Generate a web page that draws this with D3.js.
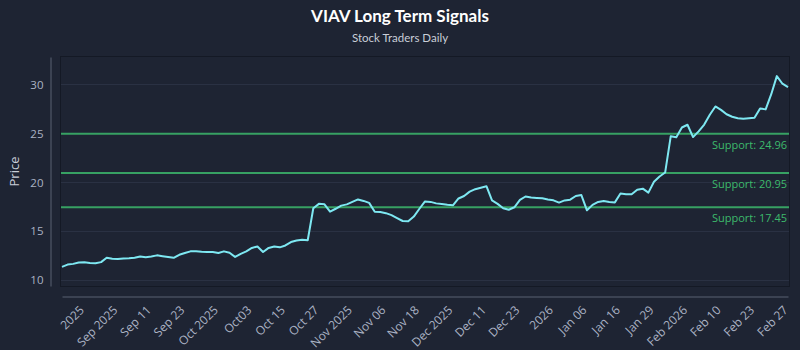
<!DOCTYPE html>
<html>
<head>
<meta charset="utf-8">
<script src="https://cdn.jsdelivr.net/npm/d3@7"></script>
<style>
  html, body { margin: 0; padding: 0; background: #1e2433; }
  svg { display: block; }
</style>
</head>
<body>
<svg id="chart" width="800" height="350"></svg>
<script>
// ---- data ----
const prices = [
  11.36, 11.60, 11.67, 11.82, 11.83, 11.76, 11.73, 11.85, 12.30, 12.20,
  12.17, 12.23, 12.25, 12.30, 12.43, 12.35, 12.42, 12.54, 12.46, 12.38,
  12.29, 12.60, 12.78, 12.95, 12.95, 12.90, 12.89, 12.89, 12.78, 12.95,
  12.80, 12.38, 12.70, 12.95, 13.30, 13.45, 12.88, 13.30, 13.45, 13.36,
  13.55, 13.90, 14.05, 14.14, 14.08, 17.35, 17.80, 17.75, 17.00, 17.30,
  17.62, 17.75, 18.00, 18.25, 18.10, 17.90, 17.00, 16.97, 16.85, 16.65,
  16.35, 16.05, 16.02, 16.50, 17.30, 18.05, 18.00, 17.85, 17.78, 17.70,
  17.65, 18.35, 18.60, 19.05, 19.30, 19.45, 19.60, 18.15, 17.80, 17.35,
  17.20, 17.45, 18.20, 18.55, 18.44, 18.40, 18.37, 18.25, 18.16, 17.93,
  18.15, 18.23, 18.60, 18.70, 17.14, 17.70, 18.00, 18.09, 18.00, 17.95,
  18.85, 18.78, 18.78, 19.25, 19.35, 18.95, 20.05, 20.60, 21.00, 24.70,
  24.60, 25.60, 25.88, 24.62, 25.20, 25.90, 26.90, 27.75, 27.40, 26.95,
  26.70, 26.55, 26.50, 26.55, 26.60, 27.55, 27.45, 29.00, 30.85, 30.07,
  29.72
];
const tickLabels = [
  "2025", "Sep 2025", "Sep 11", "Sep 23", "Oct 2025", "Oct03", "Oct 15", "Oct 27",
  "Nov 2025", "Nov 06", "Nov 18", "Dec 2025", "Dec 11", "Dec 23", "2026", "Jan 06",
  "Jan 16", "Jan 29", "Feb 2026", "Feb 10", "Feb 23", "Feb 27"
];
const tickIndex = [4, 10, 16, 22, 28, 34, 40, 46, 52, 58, 64, 70, 76, 82, 88, 94, 100, 106, 112, 118, 124, 130];
const supportLevels = [24.96, 20.95, 17.45];
const yTicks = [10, 15, 20, 25, 30];
const title = "VIAV Long Term Signals";
const subtitle = "Stock Traders Daily";
const yLabel = "Price";

// ---- layout ----
const W = 800, H = 350;
const plot = { left: 61, right: 789, top: 57, bottom: 286 };
const svg = d3.select("#chart");

svg.append("rect").attr("width", W).attr("height", H).attr("fill", "#1e2433");

const x = d3.scaleLinear().domain([0, prices.length - 1]).range([plot.left + 1, plot.right - 1]);
const yMin = d3.min(prices), yMax = d3.max(prices), pad = (yMax - yMin) * 0.1;
const y = d3.scaleLinear().domain([yMin - pad, yMax + pad]).range([plot.bottom, plot.top]);

// plot frame
svg.append("rect")
  .attr("x", plot.left - 0.5).attr("y", plot.top - 0.5)
  .attr("width", plot.right - plot.left + 1).attr("height", plot.bottom - plot.top + 1)
  .attr("fill", "#1e2433").attr("stroke", "#141925").attr("stroke-width", 1);

// grid
svg.append("g").selectAll("line").data(yTicks).join("line")
  .attr("x1", plot.left).attr("x2", plot.right)
  .attr("y1", d => Math.round(y(d)) + 0.5).attr("y2", d => Math.round(y(d)) + 0.5)
  .attr("stroke", "#2a3143").attr("stroke-width", 1);

// support lines
svg.append("g").selectAll("line").data(supportLevels).join("line")
  .attr("x1", plot.left).attr("x2", plot.right)
  .attr("y1", d => y(d)).attr("y2", d => y(d))
  .attr("stroke", "#37a163").attr("stroke-width", 2);

svg.append("g").selectAll("text").data(supportLevels).join("text")
  .attr("x", plot.right - 2).attr("y", d => y(d) + 15)
  .attr("text-anchor", "end")
  .attr("font-family", "Open Sans, sans-serif").attr("font-size", 11)
  .attr("fill", "#3dba6c")
  .text(d => "Support: " + d.toFixed(2));

// price line
const line = d3.line().x((d, i) => x(i)).y(d => y(d));
svg.append("path").datum(prices)
  .attr("d", line).attr("fill", "none")
  .attr("stroke", "#7ee8f2").attr("stroke-width", 2)
  .attr("stroke-linejoin", "round");

// y axis
const yAxis = svg.append("g").attr("transform", `translate(${plot.left - 10.5},0)`)
  .call(d3.axisLeft(y).tickValues(yTicks).tickSize(0).tickPadding(7));
yAxis.select(".domain").attr("stroke", "#596072");
yAxis.selectAll("text").attr("fill", "#aab2c3").attr("font-size", 11.5)
  .attr("font-family", "Open Sans, sans-serif");

// x axis
const xAxis = svg.append("g").attr("transform", `translate(0,${plot.bottom + 10.5})`)
  .call(d3.axisBottom(x).tickValues(tickIndex).tickSize(0)
    .tickFormat((d, i) => tickLabels[i]));
xAxis.select(".domain").attr("stroke", "#596072");
xAxis.selectAll("text")
  .attr("fill", "#aab2c3").attr("font-size", 12)
  .attr("font-family", "Open Sans, sans-serif")
  .attr("text-anchor", "end")
  .attr("dx", "-0.85em").attr("dy", "0.6em")
  .attr("transform", "rotate(-45)");

// titles
svg.append("text").attr("x", W / 2).attr("y", 22).attr("text-anchor", "middle")
  .attr("font-family", "Lato, sans-serif").attr("font-weight", "bold").attr("font-size", 17)
  .attr("fill", "#ffffff").text(title);
svg.append("text").attr("x", W / 2).attr("y", 42).attr("text-anchor", "middle")
  .attr("font-family", "Lato, sans-serif").attr("font-size", 11.5)
  .attr("fill", "#c9ced8").text(subtitle);
svg.append("text")
  .attr("transform", `translate(19,${(plot.top + plot.bottom) / 2}) rotate(-90)`)
  .attr("text-anchor", "middle")
  .attr("font-family", "Open Sans, sans-serif").attr("font-size", 13)
  .attr("fill", "#c9ced8").text(yLabel);
</script>
</body>
</html>
